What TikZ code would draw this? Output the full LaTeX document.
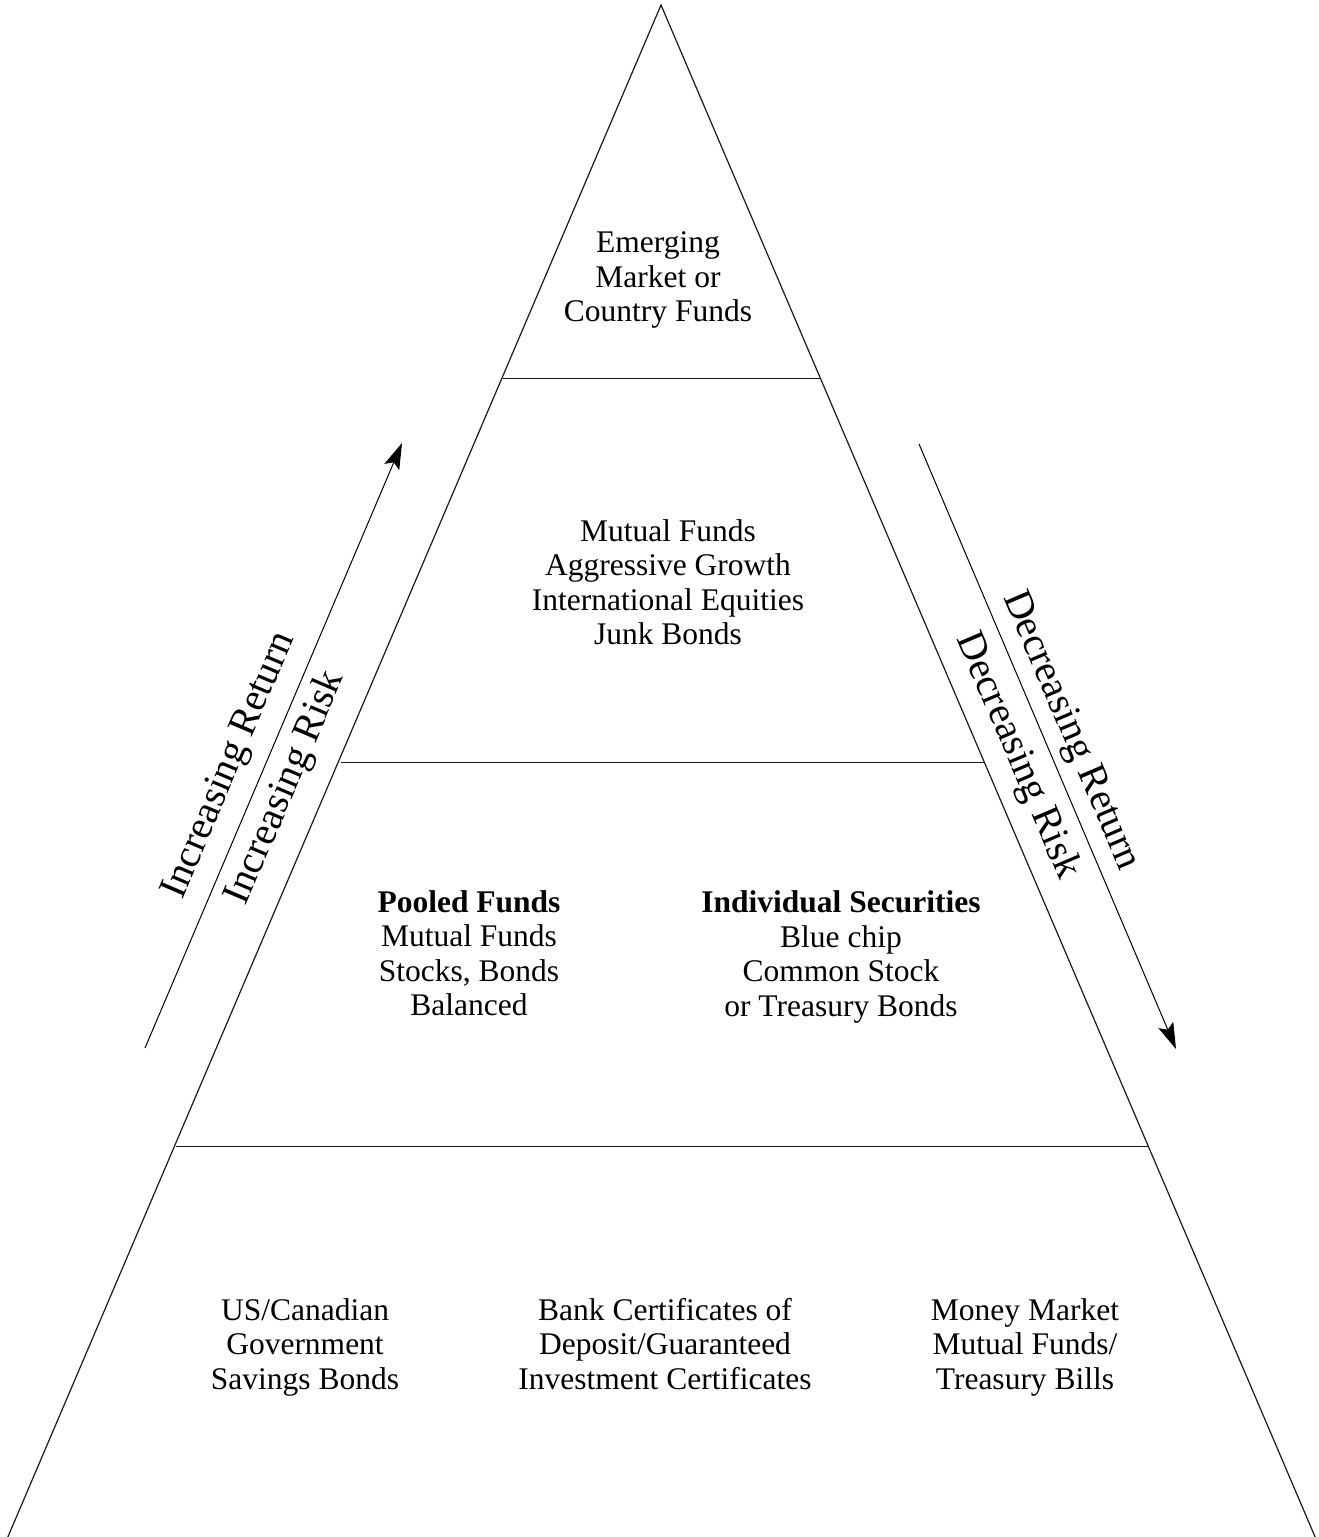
\documentclass[tikz,border=0pt]{standalone}
\usepackage{fontspec}
\setmainfont{Liberation Serif}
\usetikzlibrary{arrows.meta}
\begin{document}
\begin{tikzpicture}[x=1pt,y=-1pt,
  edge/.style={line width=1.2pt,black!90},
  tier/.style={line width=1pt,black!90},
  txt/.style={align=center,inner sep=0pt,font=\fontsize{31.5}{34.5}\selectfont},
  rtxt/.style={inner sep=0pt,font=\fontsize{40}{44}\selectfont},
  trend/.style={line width=1pt,-{Stealth[length=26pt,width=16pt,inset=5pt]}}]
\useasboundingbox (0,0) rectangle (1318,1537);
\coordinate (apex) at (661,5);
\coordinate (bl) at (7,1539);
\coordinate (br) at (1316,1539);
\draw[edge] (bl) -- (apex) -- (br);
\coordinate (l1) at (503,378); \coordinate (r1) at (821,378);
\coordinate (l2) at (341,762); \coordinate (r2) at (985,762);
\coordinate (l3) at (176,1146); \coordinate (r3) at (1148,1146);
\draw[tier] (l1) -- (r1);
\draw[tier] (l2) -- (r2);
\draw[tier] (l3) -- (r3);
\node[txt] (top) at (658,280) {Emerging\\Market or\\Country Funds};
\node[txt] (mid) at (668,582) {Mutual Funds\\Aggressive Growth\\International Equities\\Junk Bonds};
\node[txt] (pool) at (469,953) {\textbf{Pooled Funds}\\Mutual Funds\\Stocks, Bonds\\Balanced};
\node[txt] (indiv) at (841,957) {\textbf{Individual Securities}\\Blue chip\\Common Stock\\or Treasury Bonds};
\node[txt] (us) at (305,1347) {US/Canadian\\Government\\Savings Bonds};
\node[txt] (bank) at (665,1344) {Bank Certificates of\\Deposit/Guaranteed\\Investment Certificates};
\node[txt] (mm) at (1025,1347) {Money Market\\Mutual Funds/\\Treasury Bills};
\coordinate (ua) at (145,1048); \coordinate (ub) at (402,443);
\coordinate (da) at (919,444); \coordinate (db) at (1176,1049);
\draw[trend] (ua) -- (ub);
\draw[trend] (da) -- (db);
\node[rtxt,rotate=66.9] (ir) at (230,766) {Increasing Return};
\node[rtxt,rotate=66.9] (irk) at (286,788) {Increasing Risk};
\node[rtxt,rotate=-66.9] (dr) at (1070,731) {Decreasing Return};
\node[rtxt,rotate=-66.9] (drk) at (1017,756) {Decreasing Risk};
\end{tikzpicture}
\end{document}
